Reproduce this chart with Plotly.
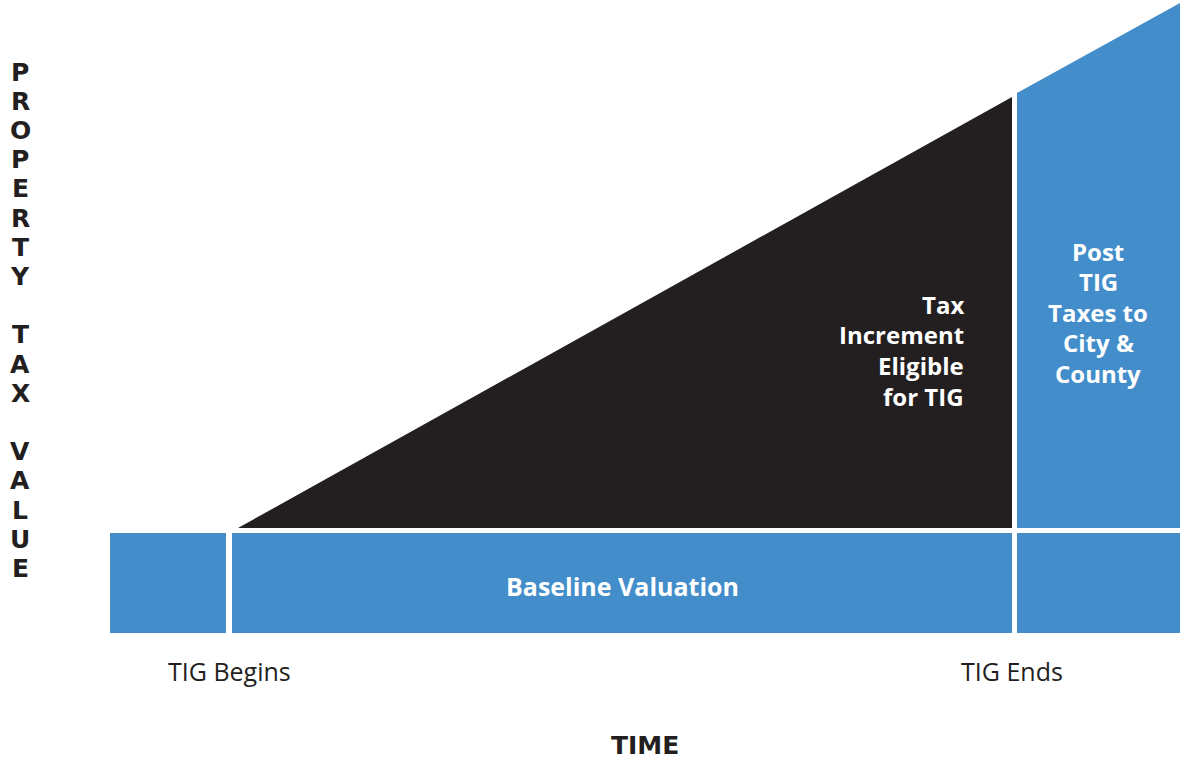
import plotly.graph_objects as go

# Diagram data (x = time units, y = property tax value units)
baseline_blocks_x = [[110, 226], [232, 1012], [1017, 1180]]
baseline_bottom = 128
baseline_top = 228
increment_x = [238, 1012, 1012]
increment_y = [233, 233, 664]
post_x = [1017, 1180, 1180, 1017]
post_y = [233, 233, 758, 668]

baseline_label = "Baseline Valuation"
increment_label = ["Tax", "Increment", "Eligible", "for TIG"]
post_label = ["Post", "TIG", "Taxes to", "City &amp;", "County"]
x_tick_labels = ["TIG Begins", "TIG Ends"]
x_tick_pos = [229, 1012]
x_title = "TIME"
y_title = "PROPERTY TAX VALUE"

BLUE = "#438ECA"
BLACK = "#231F20"
FONT = "Open Sans"
HEAVY = "DejaVu Sans"
H = 761

fig = go.Figure()
for x0, x1 in baseline_blocks_x:
    fig.add_trace(go.Scatter(
        x=[x0, x1, x1, x0, x0],
        y=[baseline_bottom, baseline_bottom, baseline_top, baseline_top, baseline_bottom],
        mode="lines", line=dict(width=0), fill="toself", fillcolor=BLUE,
        hoverinfo="skip", showlegend=False))
fig.add_trace(go.Scatter(
    x=increment_x + [increment_x[0]], y=increment_y + [increment_y[0]],
    mode="lines", line=dict(width=0), fill="toself", fillcolor=BLACK,
    hoverinfo="skip", showlegend=False))
fig.add_trace(go.Scatter(
    x=post_x + [post_x[0]], y=post_y + [post_y[0]],
    mode="lines", line=dict(width=0), fill="toself", fillcolor=BLUE,
    hoverinfo="skip", showlegend=False))

ann = []
wfont = dict(family=FONT, size=24, color="white", weight=700)
ann.append(dict(x=622, y=H - 586, text=baseline_label, showarrow=False,
                font=dict(family=FONT, size=25, color="white", weight=700),
                xanchor="center", yanchor="middle"))
for i, line in enumerate(increment_label):
    ann.append(dict(x=966, y=H - (304 + i * 30.7), text=line, showarrow=False,
                    font=wfont, xanchor="right", yanchor="middle"))
for i, line in enumerate(post_label):
    ann.append(dict(x=1098, y=H - (251 + i * 30.5), text=line, showarrow=False,
                    font=wfont, xanchor="center", yanchor="middle"))
for xp, t in zip(x_tick_pos, x_tick_labels):
    ann.append(dict(x=xp, y=H - 671, text=t, showarrow=False,
                    font=dict(family=FONT, size=25, color=BLACK, weight=400),
                    xanchor="center", yanchor="middle"))
ann.append(dict(x=645, y=H - 745, text=x_title, showarrow=False,
                font=dict(family=HEAVY, size=25, color=BLACK, weight=700),
                xanchor="center", yanchor="middle"))
for i, ch in enumerate(y_title):
    if ch == " ":
        continue
    ann.append(dict(x=20, y=H - (72 + i * 29.2), text=ch, showarrow=False,
                    font=dict(family=HEAVY, size=25, color=BLACK, weight=700),
                    xanchor="center", yanchor="middle"))

fig.update_layout(
    width=1180, height=761, margin=dict(l=0, r=0, t=0, b=0),
    paper_bgcolor="white", plot_bgcolor="white",
    xaxis=dict(range=[0, 1180], visible=False, fixedrange=True),
    yaxis=dict(range=[0, 761], visible=False, fixedrange=True),
    annotations=ann,
)
fig.write_html("out.html")
